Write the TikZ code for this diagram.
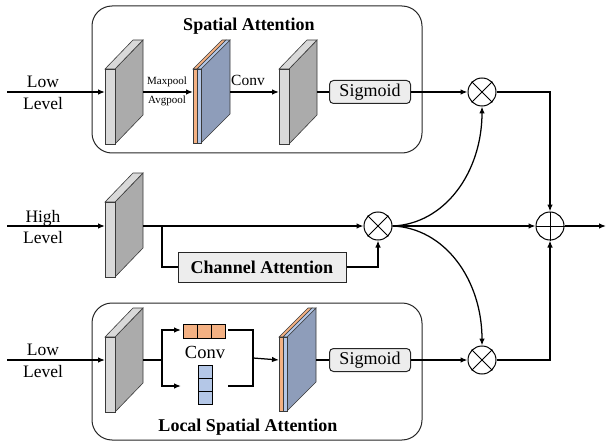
\documentclass[tikz,border=0pt]{standalone}
\usepackage{fontspec}
\setmainfont{Liberation Serif}[Ligatures=TeX]
\usetikzlibrary{arrows.meta,calc}
\definecolor{slabfront}{HTML}{D9D9D9}
\definecolor{slabside}{HTML}{ABABAB}
\definecolor{edgecol}{HTML}{3A3A3A}
\definecolor{orangec}{HTML}{F4B183}
\definecolor{lblue}{HTML}{B4C7E7}
\definecolor{dblue}{HTML}{8E9DBA}
\definecolor{boxfill}{HTML}{EDEDED}
\newcommand\greyslab[2]{%
  \filldraw[fill=slabside,draw=edgecol,line width=0.6pt] (#1+10,#2) -- ++(28,-29) -- ++(0,75) -- ++(-28,29) -- cycle;
  \filldraw[fill=slabfront,draw=edgecol,line width=0.6pt] (#1,#2) -- ++(28,-29) -- ++(10,0) -- ++(-28,29) -- cycle;
  \filldraw[fill=slabfront,draw=edgecol,line width=0.6pt] (#1,#2) rectangle ++(10,75);
}
\newcommand\stackslab[2]{%
  \filldraw[fill=orangec,draw=edgecol,line width=0.6pt] (#1,#2) -- ++(29,-29) -- ++(4,0) -- ++(-29,29) -- cycle;
  \filldraw[fill=orangec,draw=edgecol,line width=0.6pt] (#1,#2) rectangle ++(4,74);
  \filldraw[fill=dblue,draw=edgecol,line width=0.6pt] (#1+8,#2) -- ++(29,-29) -- ++(0,74) -- ++(-29,29) -- cycle;
  \filldraw[fill=lblue,draw=edgecol,line width=0.6pt] (#1+4,#2) -- ++(29,-29) -- ++(4,0) -- ++(-29,29) -- cycle;
  \filldraw[fill=lblue,draw=edgecol,line width=0.6pt] (#1+4,#2) rectangle ++(4,74);
}
\begin{document}
\begin{tikzpicture}[x=1pt,y=-1pt,
  line/.style={line width=1.25pt,draw=black},
  arr/.style={line,-{Latex[length=7pt,width=5.5pt]}},
  container/.style={draw=black!85,rounded corners=20pt,line width=1pt},
  lbl/.style={align=center,inner sep=0pt,font=\rmfamily\fontsize{17.5}{21.5}\selectfont},
  title/.style={inner sep=0pt,font=\rmfamily\fontsize{18}{21}\selectfont\bfseries},
  small/.style={inner sep=0pt,font=\rmfamily\fontsize{11}{13}\selectfont},
  sig/.style={draw=black!85,line width=1pt,rounded corners=4pt,fill=boxfill,minimum width=81pt,minimum height=23pt,inner sep=0pt,font=\rmfamily\fontsize{18}{21}\selectfont},
  chan/.style={draw=black!85,line width=1pt,fill=boxfill,minimum width=168pt,minimum height=30pt,inner sep=0pt,font=\rmfamily\fontsize{18}{21}\selectfont\bfseries},
  op/.style={circle,draw=black,line width=1pt,minimum size=28pt,inner sep=0pt},
  cellO/.style={fill=orangec,draw=black,line width=0.8pt},
  cellB/.style={fill=lblue,draw=black,line width=0.8pt}]
\useasboundingbox (0,0) rectangle (606,444);

% containers
\draw[container] (92,6) rectangle (422,153);
\draw[container] (92,303) rectangle (422,440);
\node[title] (t1) at (249,26) {Spatial Attention};
\node[title] (t2) at (248,427) {Local Spatial Attention};

% slabs
\greyslab{105}{69}
\greyslab{279}{69}
\stackslab{193}{69}
\greyslab{105}{202}
\greyslab{105}{337}
\stackslab{279}{337}

% slab connection points
\coordinate (s1in) at (105,92);  \coordinate (s1out) at (143,92);
\coordinate (c1in) at (193,92);  \coordinate (c1out) at (230,92);
\coordinate (s3in) at (279,92);  \coordinate (s3out) at (317,92);
\coordinate (h1in) at (105,226); \coordinate (h1out) at (143,226);
\coordinate (b1in) at (105,360); \coordinate (b1out) at (143,360);
\coordinate (c2in) at (279,360); \coordinate (c2out) at (316,360);

% input labels
\coordinate (inA) at (7,92);
\coordinate (inB) at (7,226);
\coordinate (inC) at (7,360);
\node[lbl] (lA) at (43,93) {Low\\Level};
\node[lbl] (lB) at (43,227) {High\\Level};
\node[lbl] (lC) at (43,361) {Low\\Level};
\draw[arr] (inA) -- (s1in);
\draw[arr] (inB) -- (h1in);
\draw[arr] (inC) -- (b1in);

% top branch
\node[small] (mp) at (167,82) {Maxpool};
\node[small] (ap) at (167,101) {Avgpool};
\node[inner sep=0pt,font=\rmfamily\fontsize{15.5}{18}\selectfont] (cv1) at (248,80) {Conv};
\draw[arr] (s1out) -- (c1in);
\draw[arr] (c1out) -- (s3in);
\node[sig] (sg1) at (370,92) {Sigmoid};
\draw[line] (s3out) -- (sg1);
\node[op] (m1) at (482,92) {};
\draw[line,line width=1pt] (m1.north east) -- (m1.south west) (m1.north west) -- (m1.south east);
\draw[arr] (sg1) -- (m1);

% middle branch
\node[op] (m2) at (378,226) {};
\draw[line,line width=1pt] (m2.north east) -- (m2.south west) (m2.north west) -- (m2.south east);
\node[chan] (ca) at (262,267) {Channel Attention};
\draw[arr] (h1out) -- (m2);
\draw[line] (h1out) -- (162,226) |- (ca.west);
\draw[arr] (ca.east) -| (m2.south);

% bottom branch
\coordinate (split) at (162,360);
\coordinate (aO) at (181,330);
\coordinate (aB) at (181,386);
\draw[line] (b1out) -- (split);
\draw[arr] (split) |- (aO);
\draw[arr] (split) |- (aB);
\foreach \i in {0,1,2} {
  \draw[cellO] (183+14*\i,324) rectangle ++(14,14);
  \draw[cellB] (198,365+13*\i) rectangle ++(14,13);
}
\node[inner sep=0pt,font=\rmfamily\fontsize{18.5}{21}\selectfont] (cv2) at (205,352) {Conv};
\coordinate (oO) at (228,330);
\coordinate (oB) at (228,386);
\coordinate (join) at (253,358);
\draw[line] (oO) -| (join) (oB) -| (join);
\draw[arr] (join) -- (c2in);
\node[sig] (sg2) at (370,360) {Sigmoid};
\draw[line] (c2out) -- (sg2);
\node[op] (m3) at (482,360) {};
\draw[line,line width=1pt] (m3.north east) -- (m3.south west) (m3.north west) -- (m3.south east);
\draw[arr] (sg2) -- (m3);

% curves
\draw[arr] (m2.east) .. controls (445,224) and (482,172) .. (m1.south);
\draw[arr] (m2.east) .. controls (445,228) and (482,280) .. (m3.north);

% sum
\node[op] (p) at (550,226) {};
\draw[line,line width=1pt] (p.north) -- (p.south) (p.west) -- (p.east);
\draw[arr] (m2.east) -- (p.west);
\draw[arr] (m1.east) -| (p.north);
\draw[arr] (m3.east) -| (p.south);
\coordinate (out) at (606,226);
\draw[arr] (p.east) -- (out);
\end{tikzpicture}
\end{document}
